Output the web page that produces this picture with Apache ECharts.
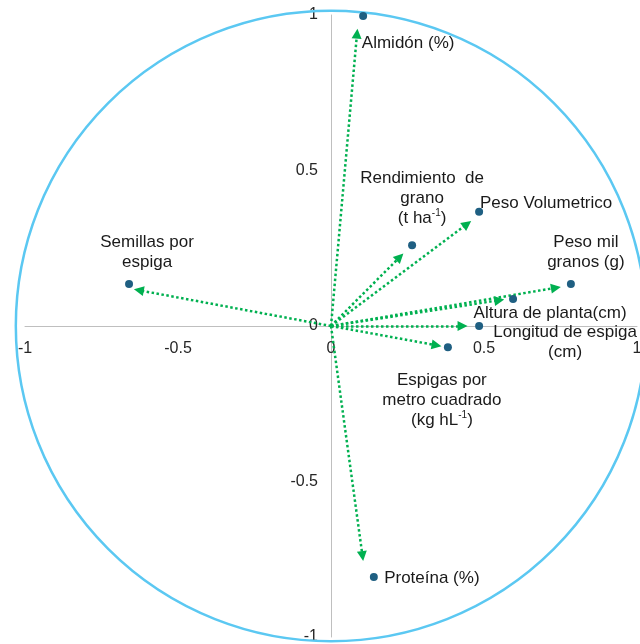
<!DOCTYPE html>
<html>
<head>
<meta charset="utf-8">
<script src="https://cdn.jsdelivr.net/npm/echarts@6/dist/echarts.min.js"></script>
<style>
html, body { margin: 0; padding: 0; background: #fff; }
#chart { width: 640px; height: 644px; }
</style>
</head>
<body>
<div id="chart"></div>
<script>
// variables (labels use rich text for the superscripts)
var labels = [
    'Almidón (%)',
    'Rendimiento  de\ngrano\n(t ha{sup|-1})',
    'Peso Volumetrico',
    'Peso mil\ngranos (g)',
    'Altura de planta(cm)',
    'Longitud de espiga\n(cm)',
    'Espigas por\nmetro cuadrado\n(kg hL{sup|-1})',
    'Semillas por\nespiga',
    'Proteína (%)'
];
// loadings on the two components (dots)
var pc1 = [0.105, 0.265, 0.484, 0.784, 0.595, 0.484, 0.382, -0.66, 0.14];
var pc2 = [0.997, 0.26, 0.367, 0.135, 0.087, 0.0, -0.068, 0.135, -0.807];
// arrow tips
var tip1 = [0.085, 0.225, 0.445, 0.735, 0.55, 0.43, 0.345, -0.628, 0.103];
var tip2 = [0.94, 0.222, 0.328, 0.123, 0.083, 0.0, -0.062, 0.115, -0.74];
var axisTicks = [-1, -0.5, 0, 0.5, 1];
var circleRadius = 1.03;

// where each label sits relative to its dot (px)
var labelOffsets = [[45, 27], [10, -47], [67, -9], [15, -32], [37, 14], [86, 16], [-6, 53], [18, -32], [58, 1]];

var myChart = echarts.init(document.getElementById('chart'));

var pointData = [];
var arrowData = [];
for (var i = 0; i < labels.length; i++) {
    pointData.push({
        value: [pc1[i], pc2[i]],
        label: { offset: labelOffsets[i] }
    });
    arrowData.push({ coords: [[0, 0], [tip1[i], tip2[i]]] });
}

var font = 'Liberation Sans, Arial, sans-serif';
var gridLeft = 25, gridRight = 3, gridTop = 15, gridBottom = 7;

option = {
    animation: false,
    backgroundColor: '#fff',
    grid: { left: gridLeft, right: gridRight, top: gridTop, bottom: gridBottom, outerBoundsMode: 'none' },
    xAxis: {
        type: 'value',
        min: axisTicks[0],
        max: axisTicks[axisTicks.length - 1],
        interval: 0.5,
        // move the axis up to y = 0 (symmetric range)
        offset: -(644 - gridTop - gridBottom) / 2,
        splitLine: { show: false },
        axisTick: { show: false },
        axisLine: { onZero: false, lineStyle: { color: '#bfbfbf', width: 1 } },
        axisLabel: { color: '#262626', fontSize: 16, fontFamily: font, margin: 15 }
    },
    yAxis: {
        type: 'value',
        min: axisTicks[0],
        max: axisTicks[axisTicks.length - 1],
        interval: 0.5,
        // move the axis right to x = 0
        offset: -(640 - gridLeft - gridRight) / 2,
        splitLine: { show: false },
        axisTick: { show: false },
        axisLine: { onZero: false, lineStyle: { color: '#bfbfbf', width: 1 } },
        axisLabel: { color: '#262626', fontSize: 16, fontFamily: font, margin: 13 }
    },
    series: [
        {
            // correlation circle
            type: 'custom',
            clip: false,
            silent: true,
            z: 1,
            data: [[0, 0]],
            renderItem: function(params, api) {
                var c = api.coord([0, 0]);
                var r = api.size([circleRadius, 0])[0];
                return {
                    type: 'circle',
                    shape: { cx: c[0], cy: c[1], r: r },
                    style: { fill: null, stroke: '#5bc8f2', lineWidth: 2.5 }
                };
            }
        },
        {
            type: 'lines',
            coordinateSystem: 'cartesian2d',
            z: 3,
            symbol: ['none', 'triangle'],
            symbolSize: 10,
            lineStyle: { color: '#00b050', width: 2.5, type: 'dotted', opacity: 1, curveness: 0 },
            data: arrowData
        },
        {
            type: 'scatter',
            z: 4,
            symbolSize: 8,
            itemStyle: { color: '#1f5f82', opacity: 1 },
            label: {
                show: true,
                position: 'inside',
                align: 'center',
                verticalAlign: 'middle',
                color: '#1a1a1a',
                fontSize: 17,
                fontFamily: font,
                lineHeight: 20,
                formatter: function(p) { return labels[p.dataIndex]; },
                rich: {
                    sup: { fontSize: 10, fontFamily: font, color: '#1a1a1a', verticalAlign: 'top', lineHeight: 10 }
                }
            },
            data: pointData
        }
    ]
};

myChart.setOption(option);
</script>
</body>
</html>
